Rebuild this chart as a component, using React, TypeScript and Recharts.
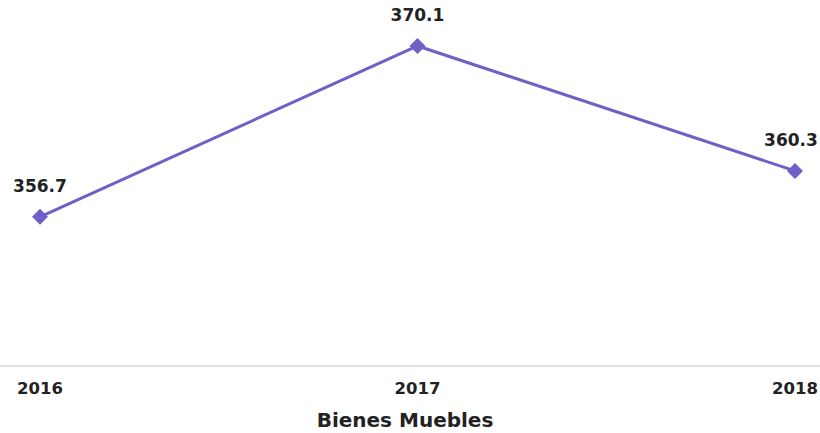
import React from 'react';
import { LineChart, Line, XAxis, YAxis, LabelList, Label } from 'recharts';

const years = ['2016', '2017', '2018'];
const values = [356.7, 370.1, 360.3];

const data = years.map((year, i) => ({ year, value: values[i] }));

const WIDTH = 820;
const HEIGHT = 433;
const LINE_COLOR = '#6f5fc6';
const FONT = '"DejaVu Sans", "Liberation Sans", Arial, sans-serif';

// diamond marker
const Diamond = ({ cx, cy }: any) => {
  if (cx == null || cy == null) return null;
  const r = 8;
  return (
    <path
      d={`M${cx},${cy - r} L${cx + r},${cy} L${cx},${cy + r} L${cx - r},${cy} Z`}
      fill={LINE_COLOR}
    />
  );
};

const YearTick = ({ x, y, payload }: any) => (
  <text x={x} y={y + 20} textAnchor="middle" fontFamily={FONT} fontWeight="bold" fontSize={16.5} fill="#222">
    {payload.value}
  </text>
);

// value label above each point, kept inside the right edge like the original
const ValueLabel = ({ x, y, value }: any) => {
  const half = 28;
  const lx = Math.min(x, WIDTH - half - 1);
  return (
    <text x={lx} y={y - 25} textAnchor="middle" fontFamily={FONT} fontWeight="bold" fontSize={17} fill="#222">
      {Number(value).toFixed(1)}
    </text>
  );
};

export default function App() {
  return (
    <div style={{ position: 'absolute', left: 0, top: 0, width: WIDTH, height: HEIGHT, background: '#fff' }}>
      <LineChart width={WIDTH} height={HEIGHT} data={data} margin={{ top: 9, right: 0, bottom: 0, left: 0 }}>
        <XAxis
          dataKey="year"
          axisLine={{ stroke: '#d4d4d4', strokeWidth: 1.5 }}
          tickLine={false}
          tick={<YearTick />}
          height={67}
          padding={{ left: 40, right: 25 }}
          interval={0}
        >
          <Label
            value="Bienes Muebles"
            position="insideBottom"
            offset={6}
            dx={-5}
            style={{ fontFamily: FONT, fontWeight: 'bold', fontSize: 20, fill: '#222' }}
          />
        </XAxis>
        <YAxis hide domain={[345, 373]} />
        <Line
          type="linear"
          dataKey="value"
          stroke={LINE_COLOR}
          strokeWidth={3}
          dot={<Diamond />}
          activeDot={false}
          isAnimationActive={false}
        >
          <LabelList dataKey="value" content={<ValueLabel />} />
        </Line>
      </LineChart>
    </div>
  );
}
